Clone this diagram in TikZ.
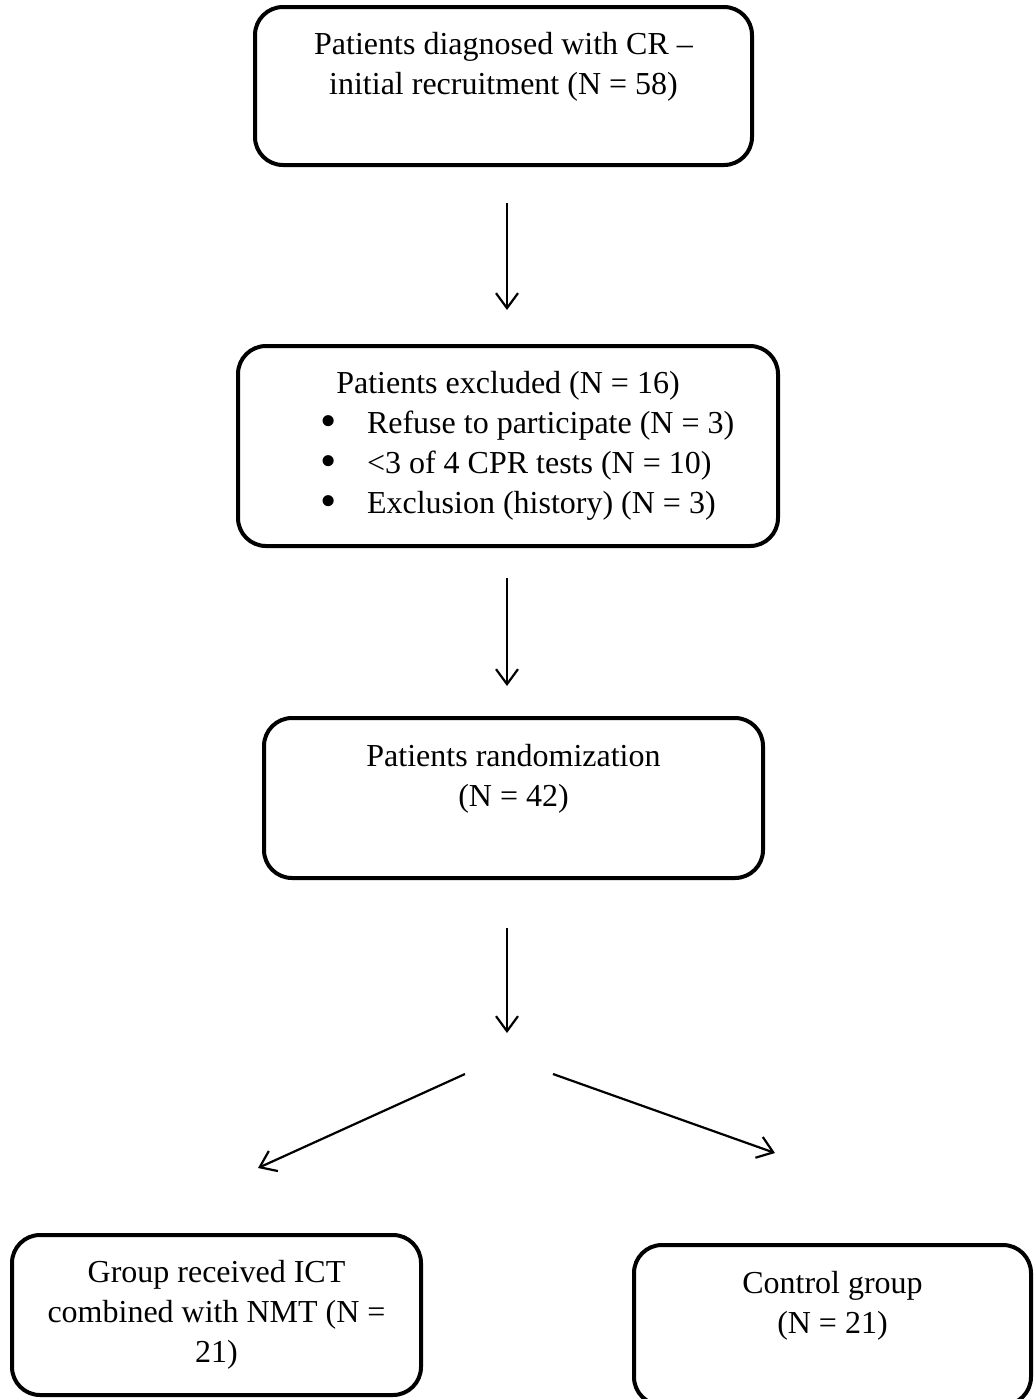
\documentclass[tikz,border=0pt]{standalone}
\usepackage{fontspec}
\setmainfont{Liberation Serif}
\usetikzlibrary{arrows.meta}
\newcommand{\listline}[1]{\makebox[270pt][l]{\hspace*{41pt}\makebox[23.5pt][l]{\raisebox{-1.2pt}{\scalebox{1.45}{•}}}#1}}

\begin{document}
\begin{tikzpicture}[
    x=0.5pt, y=-0.5pt,
    flowbox/.style={rectangle, draw, line width=2pt, rounded corners=14pt,
                    align=center, inner sep=0pt,
                    font=\fontsize{16}{20}\selectfont},
    flowarrow/.style={-{Straight Barb[length=7.5pt,width=11pt]}, line width=1.1pt}
]
\useasboundingbox (0,0) rectangle (1034,1399);
\clip (0,0) rectangle (1034,1399);

% boxes
\node[flowbox, minimum width=248.5pt, minimum height=79pt] (recruit) at (503.5,86)
    {\strut Patients diagnosed with CR –\\ initial recruitment (N = 58)\\ \strut};
\node[flowbox, minimum width=270pt, minimum height=100pt] (excluded) at (508,446)
    {\makebox[270pt]{Patients excluded (N = 16)}\\
     \listline{Refuse to participate (N = 3)}\\
     \listline{<3 of 4 CPR tests (N = 10)}\\
     \listline{Exclusion (history) (N = 3)}};
\node[flowbox, minimum width=249.5pt, minimum height=80pt] (random) at (513.5,798)
    {\strut Patients randomization\\ (N = 42)\\ \strut};
\node[flowbox, minimum width=204.5pt, minimum height=80pt] (ictgroup) at (216.5,1315)
    {Group received ICT\\ combined with NMT (N =\\ 21)};
\node[flowbox, minimum width=198.5pt, minimum height=80pt] (control) at (832.5,1325)
    {\strut Control group\\ (N = 21)\\ \strut};

% arrow ends
\coordinate (a1s) at (507,203);  \coordinate (a1e) at (507,310);
\coordinate (a2s) at (507,578);  \coordinate (a2e) at (507,686);
\coordinate (a3s) at (507,928);  \coordinate (a3e) at (507,1033);
\coordinate (a4s) at (465,1074); \coordinate (a4e) at (258,1168);
\coordinate (a5s) at (553,1074); \coordinate (a5e) at (775,1153);

\draw[flowarrow] (a1s) -- (a1e);
\draw[flowarrow] (a2s) -- (a2e);
\draw[flowarrow] (a3s) -- (a3e);
\draw[flowarrow] (a4s) -- (a4e);
\draw[flowarrow] (a5s) -- (a5e);
\end{tikzpicture}
\end{document}
